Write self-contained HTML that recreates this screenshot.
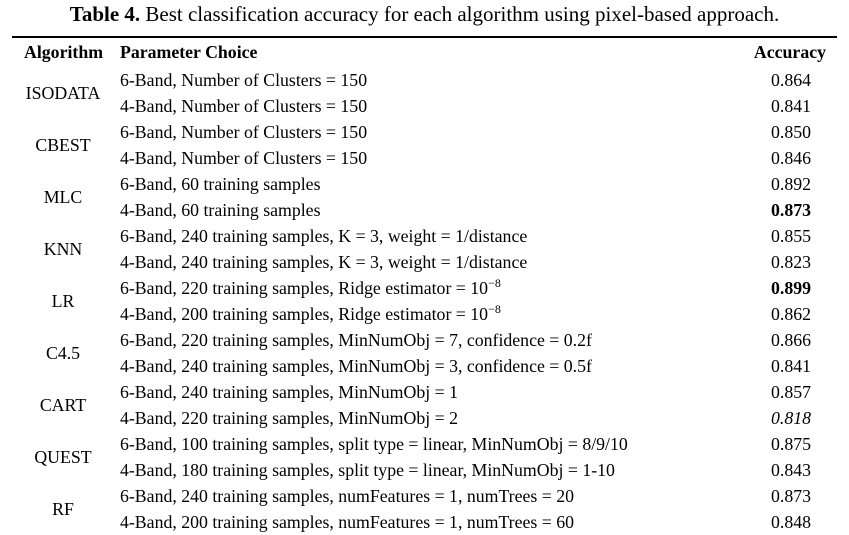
<!DOCTYPE html>
<html><head><meta charset="utf-8"><style>
body{margin:0;width:849px;height:521px;overflow:hidden;background:#fff;font-family:"Liberation Serif",serif;color:#000;position:relative}
.t{position:absolute;white-space:nowrap;font-size:17.8px;line-height:26px}
#title{position:absolute;top:1px;left:0;width:849px;text-align:center;font-size:21px;line-height:26px}
#rule{position:absolute;left:12px;top:36px;width:825px;height:2px;background:#000}
.acc{text-align:right;width:100px;left:711px}
</style></head><body>
<div id="title"><b>Table 4.</b> Best classification accuracy for each algorithm using pixel-based approach.</div>
<div id="rule"></div>
<div class="t" style="left:24px;top:39px;font-weight:bold">Algorithm</div>
<div class="t" style="left:120px;top:39px;font-weight:bold">Parameter Choice</div>
<div class="t" style="left:726px;width:100px;text-align:right;top:39px;font-weight:bold">Accuracy</div>
<div id="rows"></div>
<script>
const algorithms=["ISODATA","CBEST","MLC","KNN","LR","C4.5","CART","QUEST","RF"];
const params=["6-Band, Number of Clusters = 150","4-Band, Number of Clusters = 150","6-Band, Number of Clusters = 150","4-Band, Number of Clusters = 150","6-Band, 60 training samples","4-Band, 60 training samples","6-Band, 240 training samples, K = 3, weight = 1/distance","4-Band, 240 training samples, K = 3, weight = 1/distance","6-Band, 220 training samples, Ridge estimator = 10<sup>−8</sup>","4-Band, 200 training samples, Ridge estimator = 10<sup>−8</sup>","6-Band, 220 training samples, MinNumObj = 7, confidence = 0.2f","4-Band, 240 training samples, MinNumObj = 3, confidence = 0.5f","6-Band, 240 training samples, MinNumObj = 1","4-Band, 220 training samples, MinNumObj = 2","6-Band, 100 training samples, split type = linear, MinNumObj = 8/9/10","4-Band, 180 training samples, split type = linear, MinNumObj = 1-10","6-Band, 240 training samples, numFeatures = 1, numTrees = 20","4-Band, 200 training samples, numFeatures = 1, numTrees = 60"];
const accuracy=["0.864","0.841","0.850","0.846","0.892","0.873","0.855","0.823","0.899","0.862","0.866","0.841","0.857","0.818","0.875","0.843","0.873","0.848"];
const styles=["","","","","","b","","","b","","","","","i","","","",""];
const c=document.getElementById('rows');
const top0=67,rh=26;
algorithms.forEach((a,i)=>{
 const d=document.createElement('div');
 d.className='t';d.style.left='20px';d.style.width='86px';d.style.textAlign='center';
 d.style.top=(top0+rh*2*i+13)+'px';d.textContent=a;
 
 
 c.appendChild(d);
});
params.forEach((p,i)=>{
 const d=document.createElement('div');
 d.className='t';d.style.left='120px';d.style.top=(top0+rh*i)+'px';d.innerHTML=p;
 d.querySelectorAll('sup').forEach(s=>{s.style.fontSize='12px';s.style.verticalAlign='7px';s.style.lineHeight='0'});
 
 
 c.appendChild(d);
 const e=document.createElement('div');
 e.className='t acc';e.style.top=(top0+rh*i)+'px';e.textContent=accuracy[i];
 if(styles[i]==='b')e.style.fontWeight='bold';
 if(styles[i]==='i')e.style.fontStyle='italic';
 
 
 c.appendChild(e);
});
</script>
</body></html>
